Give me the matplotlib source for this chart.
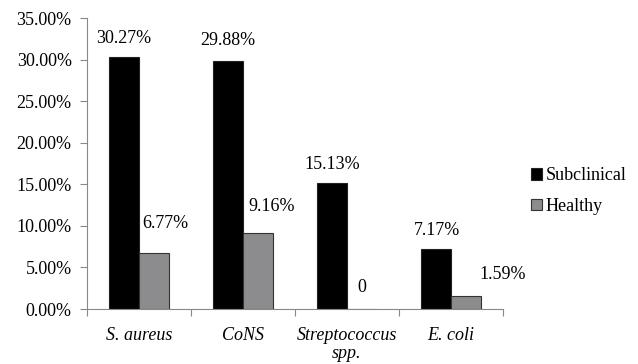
import matplotlib
matplotlib.use("Agg")
import matplotlib.pyplot as plt
import numpy as np
from matplotlib.ticker import FixedLocator, FuncFormatter

categories = ["S. aureus", "CoNS", "Streptococcus\nspp.", "E. coli"]
subclinical = [30.27, 29.88, 15.13, 7.17]
healthy = [6.77, 9.16, 0.0, 1.59]
sub_labels = ["30.27%", "29.88%", "15.13%", "7.17%"]
healthy_labels = ["6.77%", "9.16%", "0", "1.59%"]
series_names = ["Subclinical", "Healthy"]

plt.rcParams['font.family'] = 'Liberation Serif'
FS = 13

fig = plt.figure(figsize=(6.38, 3.64), dpi=100)
ax = fig.add_axes([87/638, (364-309)/364, (503-87)/638, (309-18)/364])

x = np.arange(len(categories))
w = 0.29
b1 = ax.bar(x - w/2, subclinical, w, color="black", edgecolor="#222222", linewidth=0.8, label=series_names[0])
b2 = ax.bar(x + w/2, healthy, w, color="#8c8c8e", edgecolor="#333333", linewidth=0.8, label=series_names[1])

# value labels (offsets in pixels)
sub_off = [(0, 19), (0, 20), (0, 19), (1, 19)]
hl_off = [(11, 29), (14, 26), (0, 21), (37, 21)]
for i, (v, t) in enumerate(zip(subclinical, sub_labels)):
    ax.annotate(t, xy=(x[i] - w/2, v), xytext=sub_off[i], textcoords="offset pixels",
                ha="center", va="center", fontsize=FS)
for i, (v, t) in enumerate(zip(healthy, healthy_labels)):
    ax.annotate(t, xy=(x[i] + w/2, v), xytext=hl_off[i], textcoords="offset pixels",
                ha="center", va="center", fontsize=FS)

ax.set_xlim(-0.5, len(categories) - 0.5)
ax.set_ylim(0, 35)
ax.yaxis.set_major_locator(FixedLocator(np.arange(0, 35.01, 5)))
ax.yaxis.set_major_formatter(FuncFormatter(lambda v, p: f"{v:.2f}%"))
ax.set_xticks(x)
ax.set_xticklabels(categories, fontstyle="italic", fontsize=FS, linespacing=1.05)
ax.set_xticks(np.arange(-0.5, len(categories), 1.0), minor=True)
ax.tick_params(axis="x", which="major", length=0, pad=13)
ax.tick_params(axis="x", which="minor", length=5, color="#888888", width=0.8, direction="out")
ax.tick_params(axis="y", which="major", length=5, color="#888888", width=0.8, direction="out", labelsize=FS, pad=6)

for s in ["top", "right"]:
    ax.spines[s].set_visible(False)
for s in ["left", "bottom"]:
    ax.spines[s].set_color("#888888")
    ax.spines[s].set_linewidth(0.8)

leg = fig.legend(handles=[b1, b2], labels=series_names, loc="center left",
                 bbox_to_anchor=(515/638, 1 - 191/364), frameon=False, fontsize=FS,
                 handlelength=0.6, handleheight=0.6, handletextpad=0.2, labelspacing=0.75)

fig.savefig("out.png", dpi=100)
